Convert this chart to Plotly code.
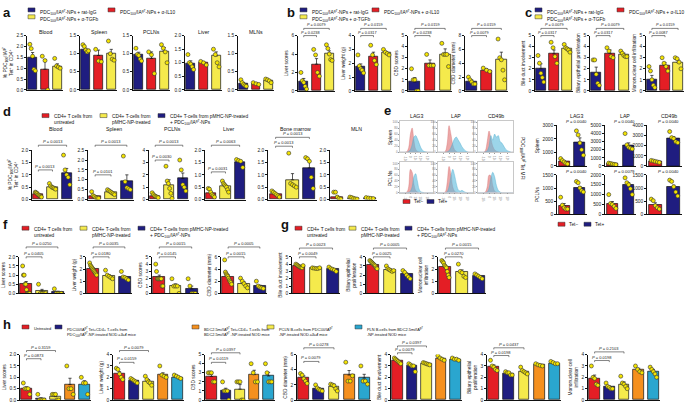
import plotly.graph_objects as go

W, H = 685, 407
NAVY = "#1f1d80"; RED = "#e41e25"; YEL = "#f5ea4c"; ORA = "#f5901e"; CYA = "#2aa6cf"
DOT = "#f4e400"
FONT = "Arial, Liberation Sans, sans-serif"

# ---------------- data ----------------
a_tissues = ["Blood", "Spleen", "PCLNs", "Liver", "MLNs"]
a_means = [[1.47, 0.95, 1.08], [1.1, 0.95, 1.0], [0.97, 0.87, 1.07], [0.97, 1.0, 1.25], [0.17, 0.17, 0.25]]
a_errs = [[0.25, 0.45, 0.12], [0.05, 0.15, 0.12], [0.07, 0.18, 0.1], [0.1, 0.04, 0.15], [0.03, 0.02, 0.03]]
a_pts = [
    [[2.1, 1.9, 1.55, 0.95, 0.88], [1.55, 1.35, 0.0], [1.45, 1.1, 1.05, 1.0]],
    [[1.25, 1.2, 1.1, 1.05, 1.08], [1.12, 0.8, 0.78], [1.35, 1.0, 0.85, 0.82]],
    [[1.15, 0.98, 0.95, 0.85, 0.8], [1.05, 0.97, 0.45], [1.25, 1.15, 1.05, 0.75]],
    [[1.3, 1.0, 0.95, 0.85, 0.75], [1.05, 1.0, 0.92], [1.5, 1.3, 1.0, 0.85]],
    [[0.28, 0.2, 0.15, 0.12, 0.1], [0.2, 0.17, 0.15], [0.3, 0.28, 0.25, 0.2]],
]
a_yticks = [[0, 0.5, 1.0, 1.5, 2.0, 2.5], [0, 0.5, 1.0, 1.5], [0, 0.5, 1.0, 1.5], [0, 0.5, 1.0, 1.5, 2.0], [0, 0.5, 1.0, 1.5]]

b_labels = ["Liver scores", "Liver weight (g)", "CBD scores", "CBD diameter (mm)"]
b_means = [[1.0, 2.9, 4.0], [1.75, 2.5, 2.75], [0.8, 2.5, 3.3], [1.4, 3.0, 4.5]]
b_errs = [[0.35, 0.6, 0.35], [0.2, 0.3, 0.1], [0.4, 0.3, 0.5], [0.2, 0.2, 1.1]]
b_pts = [
    [[2.0, 1.1, 0.9, 0.5, 0.2], [4.5, 3.9, 2.0, 1.6], [5.0, 4.6, 4.0, 3.4, 3.3]],
    [[2.6, 1.8, 1.6, 1.5, 1.3], [3.3, 2.6, 2.2, 1.9], [3.0, 2.8, 2.7, 2.6]],
    [[2.0, 1.0, 1.0, 0.0, 0.0], [3.3, 2.3, 2.3, 2.3], [4.3, 3.3, 3.3, 3.3, 2.2]],
    [[2.0, 1.6, 1.3, 1.0, 1.0], [3.3, 3.0, 2.8], [7.5, 4.8, 4.5, 3.0, 1.6]],
]
b_yticks = [[0, 2, 4, 6], [0, 1, 2, 3, 4], [0, 1, 2, 3, 4, 5], [0, 2, 4, 6, 8]]
b_pvals = [["0.0079", "0.0238"], ["0.0159", "0.0317"], ["0.0159", "0.0238"], ["0.0159", "0.0079"]]

c_labels = ["Bile duct involvement", "Biliary epithelial proliferation", "Mononuclear cell infiltration"]
c_means = [[2.0, 3.35, 3.8], [1.65, 3.4, 3.3], [1.05, 2.3, 2.55]]
c_errs = [[0.45, 0.35, 0.12], [0.5, 0.3, 0.12], [0.35, 0.25, 0.25]]
c_pts = [
    [[3.2, 2.5, 1.6, 1.2, 0.8], [4.4, 3.9, 3.1, 2.5], [4.2, 3.9, 3.8, 3.7, 3.5]],
    [[2.8, 2.8, 1.5, 0.7, 0.5], [3.9, 3.6, 3.1, 3.0], [3.6, 3.4, 3.2, 3.1, 3.1]],
    [[2.2, 1.8, 1.0, 0.5, 0.3], [3.0, 2.5, 2.2, 1.8], [3.0, 2.9, 2.6, 2.0]],
]
c_yticks = [[0, 1, 2, 3, 4, 5]] * 3
c_pvals = [["0.0079", "0.0317"], ["0.0079", "0.0317"], ["0.0159", "0.0087"]]

d_tissues = ["Blood", "Spleen", "PCLNs", "Liver", "Bone marrow", "MLN"]
d_means = [[0.2, 0.5, 1.08], [0.15, 0.37, 0.93], [0.3, 1.2, 1.7], [0.25, 0.55, 1.5], [0.22, 0.8, 1.28], [0.1, 0.05, 0.05]]
d_errs = [[0.03, 0.03, 0.18], [0.04, 0.05, 0.32], [0.06, 0.4, 0.45], [0.05, 0.05, 0.05], [0.04, 0.25, 0.3], [0.04, 0.02, 0.02]]
d_pts = [
    [[0.3, 0.28, 0.25, 0.2, 0.18, 0.15, 0.12, 0.1], [0.65, 0.55, 0.5, 0.48, 0.45, 0.42], [1.8, 1.2, 1.0, 0.9, 0.6]],
    [[0.4, 0.2, 0.15, 0.1, 0.08, 0.07], [0.5, 0.45, 0.4, 0.35, 0.3, 0.25], [2.2, 0.9, 0.6, 0.55, 0.5]],
    [[0.55, 0.4, 0.3, 0.25, 0.2, 0.15], [2.7, 1.5, 1.3, 0.9, 0.5, 0.1], [3.2, 2.4, 1.2, 1.0, 0.7]],
    [[0.45, 0.42, 0.3, 0.2, 0.15, 0.1], [0.75, 0.65, 0.6, 0.55, 0.5, 0.4, 0.3], [1.62, 1.58, 1.55, 1.3]],
    [[0.35, 0.3, 0.25, 0.2, 0.15, 0.1], [1.88, 0.65, 0.6, 0.55, 0.5], [1.7, 1.65, 1.55, 0.9, 0.45]],
    [[0.3, 0.3, 0.1, 0.05, 0.02], [0.1, 0.08, 0.05, 0.03, 0.02], [0.08, 0.06, 0.05, 0.04]],
]
d_yticks = [[0, 0.5, 1.0, 1.5, 2.0], [0, 0.5, 1.0, 1.5, 2.0, 2.5], [0, 1, 2, 3, 4],
            [0, 0.5, 1.0, 1.5, 2.0], [0, 0.5, 1.0, 1.5, 2.0], [0, 0.5, 1.0, 1.5, 2.0]]
d_pvals = [["0.0013", "0.0013"], ["0.0013", "0.0101"], ["0.0013", "0.0030"],
           ["0.0063", "0.0031"], ["0.0013", "0.0013"], None]

e_markers = ["LAG3", "LAP", "CD49b"]
e_rows = ["Spleen", "PCLNs"]
e_means = [[[300, 1750], [250, 2500], [450, 2700]], [[330, 1000], [530, 1500], [370, 1030]]]
e_errs = [[[100, 330], [50, 350], [50, 200]], [[80, 60], [120, 100], [70, 80]]]
e_pts = [
    [[[550, 400, 300, 200, 150], [2600, 2300, 1700, 1200, 800]],
     [[350, 300, 250, 200, 150], [4000, 2600, 2300, 2200, 2100]],
     [[550, 500, 450, 400, 350], [3400, 2800, 2700, 2400, 2300]]],
    [[[650, 350, 250, 200, 200], [1250, 1200, 1000, 900, 850]],
     [[1000, 550, 500, 400, 300], [1850, 1600, 1500, 1300, 1000]],
     [[580, 520, 330, 250, 200], [1300, 1250, 1050, 850, 700]]],
]
e_yticks = [[[0, 1000, 2000, 3000], [0, 1000, 2000, 3000, 4000, 5000], [0, 1000, 2000, 3000, 4000]],
            [[0, 500, 1000, 1500], [0, 500, 1000, 1500, 2000], [0, 500, 1000, 1500]]]
e_pvals = [["0.0040", "0.0040", "0.0040"], ["0.0040", "0.0079", "0.0040"]]

# histogram counts (Tet- , Tet+) per row / marker, 20 bins
hist_tet_neg = [
    [[0, 0, 0, 0, 2, 15, 60, 80, 40, 10, 3, 1, 0, 0, 0, 0, 0, 0, 0, 0],
     [0, 0, 0, 0, 3, 30, 88, 60, 25, 8, 2, 0, 0, 0, 0, 0, 0, 0, 0, 0],
     [0, 0, 0, 0, 5, 35, 70, 45, 20, 8, 3, 1, 0, 0, 0, 0, 0, 0, 0, 0]],
    [[0, 0, 0, 0, 2, 20, 80, 70, 30, 8, 2, 0, 0, 0, 0, 0, 0, 0, 0, 0],
     [0, 0, 0, 0, 3, 35, 90, 65, 20, 5, 1, 0, 0, 0, 0, 0, 0, 0, 0, 0],
     [0, 0, 0, 0, 2, 20, 60, 58, 25, 6, 1, 0, 0, 0, 0, 0, 0, 0, 0, 0]],
]
hist_tet_pos = [
    [[0, 0, 0, 0, 0, 2, 8, 25, 50, 55, 45, 30, 15, 6, 2, 1, 0, 0, 0, 0],
     [0, 0, 0, 0, 0, 1, 5, 15, 30, 45, 50, 40, 30, 18, 10, 4, 1, 0, 0, 0],
     [0, 0, 0, 0, 1, 5, 20, 55, 40, 60, 50, 55, 35, 30, 20, 10, 5, 2, 0, 0]],
    [[0, 0, 0, 0, 0, 1, 5, 20, 55, 65, 40, 12, 3, 1, 0, 0, 0, 0, 0, 0],
     [0, 0, 0, 0, 0, 3, 20, 55, 80, 60, 30, 10, 5, 8, 4, 1, 0, 0, 0, 0],
     [0, 0, 0, 0, 0, 2, 15, 50, 70, 55, 25, 8, 2, 0, 0, 0, 0, 0, 0, 0]],
]
hist_xtick_labels = ["-10³", "0", "10³", "10⁴", "10⁵"]

f_labels = ["Liver scores", "Liver weight (g)", "CBD scores", "CBD diameter (mm)"]
f_means = [[0.5, 0.12, 0.07], [2.0, 1.45, 1.33], [2.2, 1.05, 0.6], [2.75, 1.65, 1.2]]
f_errs = [[0.15, 0.1, 0.05], [0.1, 0.1, 0.07], [0.3, 0.25, 0.4], [0.3, 0.25, 0.15]]
f_pts = [
    [[1.5, 1.0, 1.0, 0.5, 0.5, 0.2, 0, 0, 0, 0], [0.5, 0, 0, 0, 0], [0.25, 0, 0, 0, 0]],
    [[2.5, 2.3, 2.2, 2.1, 2.0, 1.9, 1.8, 1.7, 1.6, 1.5], [1.9, 1.5, 1.4, 1.3, 1.2], [1.8, 1.35, 1.3, 1.2, 1.1]],
    [[4, 3, 2, 2, 2, 2, 2, 2, 1, 1], [2, 1, 1, 1, 0], [2, 1, 0, 0, 0]],
    [[5.5, 3.5, 3.2, 3.0, 2.8, 2.5, 2.2, 2.0, 1.8, 1.5], [2.5, 2.0, 1.6, 1.2, 0.9], [2.0, 1.2, 1.0, 0.9, 0.8]],
]
f_yticks = [[0, 0.5, 1.0, 1.5, 2.0], [0, 1, 2, 3], [0, 1, 2, 3, 4, 5], [0, 2, 4, 6]]
f_pvals = [["0.0250", "0.0405"], ["0.0035", "0.0180"], ["0.0015", "0.0145"], ["0.0005", "0.0015"]]

g_labels = ["Bile duct involvement", "Biliary epithelial<br>proliferation", "Mononuclear cell<br>infiltration"]
g_means = [[3.75, 3.45, 3.3], [3.15, 2.6, 2.1], [2.15, 1.75, 1.4]]
g_errs = [[0.08, 0.05, 0.1], [0.1, 0.1, 0.15], [0.15, 0.18, 0.07]]
g_pts = [
    [[4.0, 3.9, 3.8, 3.7, 3.6, 3.55, 3.5, 3.8], [3.5, 3.45, 3.4, 3.4, 3.5], [3.6, 3.4, 3.3, 3.2, 3.0]],
    [[3.6, 3.5, 3.4, 3.3, 3.2, 3.1, 3.0, 2.8, 2.7], [3.0, 2.7, 2.6, 2.5, 2.4, 2.5], [2.5, 2.3, 2.0, 1.8, 1.6]],
    [[2.7, 2.6, 2.5, 2.3, 2.2, 2.1, 1.8, 1.5, 1.3], [2.4, 1.8, 1.7, 1.4, 1.3], [1.6, 1.5, 1.4, 1.3, 1.2]],
]
g_yticks = [[0, 1, 2, 3, 4, 5], [0, 1, 2, 3, 4], [0, 1, 2, 3]]
g_pvals = [["0.0023", "0.0049"], ["0.0005", "0.0025"], ["0.0015", "0.0270"]]

h_labels = ["Liver scores", "Liver weight (g)", "CBD scores", "CBD diameter (mm)",
            "Bile duct involvement", "Biliary epithelial<br>proliferation", "Mononuclear cell<br>infiltration"]
h_means = [[0.5, 0.05, 0.15, 0.68, 0.7], [2.3, 1.7, 1.65, 2.2, 2.0], [2.6, 1.05, 1.2, 2.8, 2.65],
           [2.9, 1.5, 1.75, 3.3, 2.9], [3.45, 3.05, 3.2, 3.65, 3.6], [2.95, 2.35, 2.5, 3.1, 3.25],
           [1.9, 1.15, 1.4, 2.65, 2.5]]
h_errs = [[0.08, 0.05, 0.07, 0.28, 0.15], [0.2, 0.1, 0.15, 0.2, 0.08], [0.25, 0.25, 0.5, 0.48, 0.4],
          [0.3, 0.15, 0.35, 0.6, 0.5], [0.08, 0.08, 0.04, 0.1, 0.05], [0.15, 0.1, 0.1, 0.06, 0.05],
          [0.3, 0.1, 0.2, 0.15, 0.2]]
h_pts = [
    [[0.75, 0.5, 0.5, 0.5, 0.25], [0.25, 0, 0, 0, 0], [0.25, 0.25, 0.25, 0, 0], [1.5, 0.5, 0.5, 0.25], [1.0, 0.75, 0.75, 0.25]],
    [[2.8, 2.7, 2.3, 2.0, 1.8], [1.9, 1.8, 1.7, 1.6, 1.5], [2.1, 1.8, 1.6, 1.5, 1.3], [3.0, 2.2, 2.1, 2.0], [2.2, 2.1, 2.0, 1.9]],
    [[3, 3, 3, 2, 2], [2, 1, 1, 1, 0], [2, 2, 2, 0, 0], [4, 3, 2, 2], [4, 3, 2, 2, 2]],
    [[3.5, 3.3, 2.8, 2.5, 2.2], [2.0, 1.6, 1.4, 1.3, 1.2], [2.1, 2.0, 1.9, 1.5, 1.2], [5.0, 2.5, 2.5, 3.2], [4.5, 2.5, 2.5, 2.1]],
    [[3.7, 3.6, 3.5, 3.4, 3.3, 3.2], [3.2, 3.1, 3.0, 3.0, 2.5], [3.3, 3.25, 3.2, 3.15, 3.1], [3.9, 3.7, 3.6, 3.5], [3.7, 3.6, 3.6, 3.5]],
    [[3.5, 3.0, 2.9, 2.7, 2.6], [2.5, 2.4, 2.4, 2.2, 2.2], [2.9, 2.6, 2.5, 2.4, 2.3], [3.2, 3.1, 3.05, 3.0], [3.4, 3.3, 3.2, 3.2]],
    [[3.0, 2.0, 1.9, 1.4, 1.3], [1.5, 1.2, 1.1, 1.0, 1.0], [2.1, 1.5, 1.4, 1.2, 1.0], [3.0, 2.7, 2.5, 2.4], [2.9, 2.7, 2.5, 2.3, 2.0]],
]
h_yticks = [[0, 0.5, 1.0, 1.5, 2.0], [0, 1, 2, 3, 4], [0, 1, 2, 3, 4, 5], [0, 2, 4, 6],
            [0, 1, 2, 3, 4], [0, 1, 2, 3, 4], [0, 1, 2, 3, 4]]
h_pvals = [["0.3159", "0.0873"], ["0.0079", "0.0159"], ["0.0397", "0.0119"], ["0.0278", "0.0079"],
           ["0.0397", "0.0079"], ["0.0437", "0.0198"], ["0.2103", "0.0198"]]

# ---------------- helpers ----------------
fig = go.Figure()
layout_axes = {}
shapes = []
annots = []
counter = [0]
TICKF = dict(family=FONT, size=4.8, color="#222")


def X(px):
    return px / W


def Y(py):
    return 1 - py / H


def new_axes():
    counter[0] += 1
    n = counter[0]
    s = "" if n == 1 else str(n)
    return "x" + s, "y" + s, "xaxis" + s, "yaxis" + s


def fmt_ticks(vals):
    if any(abs(v - round(v)) > 1e-9 for v in vals):
        return ["%.1f" % v for v in vals]
    return ["%d" % v for v in vals]


def bar_panel(x0, x1, yt, yb, means, errs, pts, colors, yticks, ylabel=None,
              pvals=None, levels=None, xpad=0.45, width=0.72, psize=4.0):
    xa, ya, xk, yk = new_axes()
    k = len(means)
    fig.add_trace(go.Bar(
        x=list(range(k)), y=means, width=width,
        marker=dict(color=colors, line=dict(color="#111", width=0.7)),
        error_y=dict(type="data", array=errs, arrayminus=[0] * k, symmetric=False,
                     color="#111", thickness=0.7, width=1.6),
        xaxis=xa, yaxis=ya, showlegend=False, hoverinfo="skip"))
    px, py = [], []
    for i, grp in enumerate(pts):
        n = len(grp)
        for j, v in enumerate(grp):
            off = 0 if n == 1 else -0.22 + 0.44 * j / (n - 1)
            px.append(i + off)
            py.append(v)
    fig.add_trace(go.Scatter(
        x=px, y=py, mode="markers", xaxis=xa, yaxis=ya, showlegend=False, hoverinfo="skip",
        marker=dict(size=4, color=DOT, line=dict(color="#333", width=0.6))))
    ymax = yticks[-1]
    layout_axes[xk] = dict(domain=[X(x0), X(x1)], range=[-xpad, k - 1 + xpad], anchor=ya,
                           showline=True, linecolor="#111", linewidth=0.7, showticklabels=False,
                           ticks="", showgrid=False, zeroline=False, fixedrange=True)
    ya_dict = dict(domain=[Y(yb), Y(yt)], range=[0, ymax * 1.0001], anchor=xa,
                   showline=True, linecolor="#111", linewidth=0.7, ticks="outside",
                   ticklen=2, tickwidth=0.6, tickcolor="#111",
                   tickvals=yticks, ticktext=fmt_ticks(yticks), tickfont=TICKF,
                   showgrid=False, zeroline=False, fixedrange=True)
    if ylabel:
        ya_dict["title"] = dict(text=ylabel, font=dict(family=FONT, size=4.8, color="#222"),
                                standoff=2)
    layout_axes[yk] = ya_dict
    if pvals:
        hpx = yb - yt
        tick = 1.6 / hpx
        for (i1, lev, txt) in [(2, levels[0], pvals[0]), (1, levels[1], pvals[1])]:
            for (xa0, xa1, y0, y1) in [(0, i1, lev, lev), (0, 0, lev, lev - tick), (i1, i1, lev, lev - tick)]:
                shapes.append(dict(type="line", xref=xa, yref=ya + " domain", x0=xa0, x1=xa1,
                                   y0=y0, y1=y1, line=dict(color="#333", width=0.6)))
            annots.append(dict(x=i1 / 2, y=lev, xref=xa, yref=ya + " domain", yanchor="bottom",
                               xanchor="center", showarrow=False, yshift=-1,
                               text="<i>P</i> = " + txt,
                               font=dict(family=FONT, size=psize, color="#222")))
    return xa, ya


def text(px_, py_, t, size=5, xanchor="left", yanchor="middle", angle=0, bold=False, align="left"):
    annots.append(dict(x=X(px_), y=Y(py_), xref="paper", yref="paper", text=("<b>%s</b>" % t) if bold else t,
                       showarrow=False, xanchor=xanchor, yanchor=yanchor, textangle=angle, align=align,
                       font=dict(family=FONT, size=size, color="#111")))


def legend_item(px_, py_, color, label, size=4.8):
    shapes.append(dict(type="rect", xref="paper", yref="paper", x0=X(px_), x1=X(px_ + 7),
                       y0=Y(py_ + 2), y1=Y(py_ - 2), fillcolor=color, line=dict(color="#333", width=0.5)))
    annots.append(dict(x=X(px_ + 9.5), y=Y(py_ - 3.2), xref="paper", yref="paper", text=label,
                       showarrow=False, xanchor="left", yanchor="top", align="left",
                       font=dict(family=FONT, size=size, color="#111")))


PDC = "PDC<sub>100</sub>/IA<sup>g7</sup>"
ABC = [NAVY, RED, YEL]
DFG = [RED, YEL, NAVY]

# ---------------- panel a ----------------
text(1, 1, "a", size=13, yanchor="top", bold=True)
legend_item(28, 8, NAVY, PDC + "-NPs + rat-IgG")
legend_item(108, 8, RED, PDC + "-NPs + α-IL10")
legend_item(28, 15, YEL, PDC + "-NPs + α-TGFb")
a_x = [(27, 63), (80, 117), (133, 170), (185, 222), (238, 274)]
for i, (x0, x1) in enumerate(a_x):
    lab = "% " + PDC + "<br>Tet<sup>+</sup> in CD4<sup>+</sup>" if i == 0 else None
    bar_panel(x0, x1, 34, 89, a_means[i], a_errs[i], a_pts[i], ABC, a_yticks[i], ylabel=lab)
    text((x0 + x1) / 2, 30, a_tissues[i], size=5.2, xanchor="center")

# ---------------- panel b ----------------
text(285, 1, "b", size=13, yanchor="top", bold=True)
legend_item(300, 8, NAVY, PDC + "-NPs + rat-IgG")
legend_item(372, 8, RED, PDC + "-NPs + α-IL10")
legend_item(300, 15, YEL, PDC + "-NPs + α-TGFb")
b_x = [(298, 335), (355, 392), (408, 452), (465, 508)]
for i, (x0, x1) in enumerate(b_x):
    bar_panel(x0, x1, 34, 90, b_means[i], b_errs[i], b_pts[i], ABC, b_yticks[i], ylabel=b_labels[i],
              pvals=b_pvals[i], levels=(1.13, 1.0), psize=3.8)

# ---------------- panel c ----------------
text(523, 1, "c", size=13, yanchor="top", bold=True)
legend_item(535, 8, NAVY, PDC + "-NPs + rat-IgG")
legend_item(617, 8, RED, PDC + "-NPs + α-IL10")
legend_item(535, 15, YEL, PDC + "-NPs + α-TGFb")
c_x = [(535, 573), (590, 630), (646, 684)]
for i, (x0, x1) in enumerate(c_x):
    bar_panel(x0, x1, 34, 90, c_means[i], c_errs[i], c_pts[i], ABC, c_yticks[i], ylabel=c_labels[i],
              pvals=c_pvals[i], levels=(1.13, 1.0), psize=3.8)

# ---------------- panel d ----------------
text(1, 101, "d", size=13, yanchor="top", bold=True)
legend_item(42, 115, RED, "CD4+ T cells from<br>untreated")
legend_item(100, 115, YEL, "CD4+ T-cells from<br>pMHC-NP-treated")
legend_item(158, 115, NAVY, "CD4+ T-cells from pMHC-NP-treated<br>+ " + PDC + "-NPs")
d_x = [(32, 73), (88, 134), (149, 189), (205, 246), (268, 317), (330, 377)]
d_levels = [(1.1, 0.6), (1.1, 0.5), (1.1, 0.8), (1.1, 0.56), (1.26, 1.08), None]
for i, (x0, x1) in enumerate(d_x):
    lab = "% " + PDC + "<br>Tet<sup>+</sup> in CD4<sup>+</sup>" if i == 0 else None
    bar_panel(x0, x1, 150, 200, d_means[i], d_errs[i], d_pts[i], DFG, d_yticks[i], ylabel=lab,
              pvals=d_pvals[i], levels=d_levels[i])
    text((x0 + x1) / 2 + 3, 129, d_tissues[i], size=5.2, xanchor="center")

# ---------------- panel e: histograms ----------------
text(382, 100, "e", size=13, yanchor="top", bold=True)
hx = [(400, 433), (438, 473), (478, 513)]
hy = [(120, 152), (162, 193)]
bins = list(range(20))
for r in range(2):
    for c in range(3):
        xa, ya, xk, yk = new_axes()
        (x0, x1), (yt, yb) = hx[c], hy[r]
        fig.add_trace(go.Scatter(x=bins, y=hist_tet_neg[r][c], mode="lines", fill="tozeroy",
                                 line=dict(color="rgba(214,110,110,0.9)", width=0.4, shape="spline"),
                                 fillcolor="rgba(226,120,120,0.65)", xaxis=xa, yaxis=ya,
                                 showlegend=False, hoverinfo="skip"))
        fig.add_trace(go.Scatter(x=bins, y=hist_tet_pos[r][c], mode="lines", fill="tozeroy",
                                 line=dict(color="rgba(70,170,205,0.9)", width=0.4, shape="spline"),
                                 fillcolor="rgba(90,185,220,0.6)", xaxis=xa, yaxis=ya,
                                 showlegend=False, hoverinfo="skip"))
        small = dict(family=FONT, size=3, color="#777")
        layout_axes[xk] = dict(domain=[X(x0), X(x1)], range=[0, 19], anchor=ya, showline=True, mirror=True,
                               linecolor="#c8c8c8", linewidth=0.6, ticks="outside", ticklen=1,
                               tickcolor="#999", tickvals=[3, 6, 9, 12, 16], ticktext=hist_xtick_labels,
                               tickfont=small, showgrid=False, zeroline=False, fixedrange=True)
        layout_axes[yk] = dict(domain=[Y(yb), Y(yt)], range=[0, 105], anchor=xa, showline=True, mirror=True,
                               linecolor="#c8c8c8", linewidth=0.6, ticks="outside", ticklen=1,
                               tickcolor="#999", tickvals=[0, 20, 40, 60, 80, 100], tickfont=small,
                               showgrid=False, zeroline=False, fixedrange=True)
        if r == 0:
            text((x0 + x1) / 2, 115, e_markers[c], size=5.2, xanchor="center")
    text(390, (hy[r][0] + hy[r][1]) / 2 + 1, e_rows[r], size=5, xanchor="center", angle=-90)
shapes.append(dict(type="rect", xref="paper", yref="paper", x0=X(403), x1=X(410), y0=Y(204), y1=Y(200),
                   fillcolor=RED, line=dict(color="#333", width=0.5)))
text(412, 202, "Tet−", size=4.8)
shapes.append(dict(type="rect", xref="paper", yref="paper", x0=X(427), x1=X(434), y0=Y(204), y1=Y(200),
                   fillcolor=NAVY, line=dict(color="#333", width=0.5)))
text(436, 202, "Tet+", size=4.8)
text(523, 158, PDC + " Tet MFI", size=4.8, xanchor="center", angle=90)

# ---------------- panel e: bars ----------------
ex = [(557, 587), (605, 636), (647, 682)]
ey = [(125, 166), (175, 215)]
for r in range(2):
    for c in range(3):
        (x0, x1), (yt, yb) = ex[c], ey[r]
        lab = e_rows[r] if c == 0 else None
        bar_panel(x0, x1, yt, yb, e_means[r][c], e_errs[r][c], e_pts[r][c], [RED, NAVY], e_yticks[r][c],
                  ylabel=lab, xpad=0.45, width=0.7)
        text((x0 + x1) / 2 + 4, yt - 4 if r == 0 else yt - 3, "<i>P</i> = " + e_pvals[r][c], size=4.2,
             xanchor="center")
        if r == 0:
            text((x0 + x1) / 2 + 4, 115, e_markers[c], size=5.2, xanchor="center")
shapes.append(dict(type="rect", xref="paper", yref="paper", x0=X(558), x1=X(565), y0=Y(227), y1=Y(223),
                   fillcolor=RED, line=dict(color="#333", width=0.5)))
text(567, 225, "Tet−", size=4.8)
shapes.append(dict(type="rect", xref="paper", yref="paper", x0=X(584), x1=X(591), y0=Y(227), y1=Y(223),
                   fillcolor=NAVY, line=dict(color="#333", width=0.5)))
text(593, 225, "Tet+", size=4.8)

# ---------------- panel f ----------------
text(1, 216, "f", size=13, yanchor="top", bold=True)
legend_item(22, 229, RED, "CD4+ T cells from<br>untreated")
legend_item(80, 229, YEL, "CD4+ T-cells from<br>pMHC-NP-treated")
legend_item(138, 229, NAVY, "CD4+ T-cells from pMHC-NP-treated<br>+ " + PDC + "-NPs")
f_x = [(19, 65), (86, 132), (152, 199), (221, 267)]
for i, (x0, x1) in enumerate(f_x):
    bar_panel(x0, x1, 258, 295, f_means[i], f_errs[i], f_pts[i], DFG, f_yticks[i], ylabel=f_labels[i],
              pvals=f_pvals[i], levels=(1.27, 1.0))

# ---------------- panel g ----------------
text(279, 216, "g", size=13, yanchor="top", bold=True)
legend_item(295, 229, RED, "CD4+ T cells from<br>untreated")
legend_item(349, 229, YEL, "CD4+ T-cells from<br>pMHC-NP-treated")
legend_item(405, 229, NAVY, "CD4+ T-cells from pMHC-NP-treated<br>+ " + PDC + "-NPs")
g_x = [(292, 340), (366, 414), (438, 486)]
for i, (x0, x1) in enumerate(g_x):
    bar_panel(x0, x1, 258, 295, g_means[i], g_errs[i], g_pts[i], DFG, g_yticks[i], ylabel=g_labels[i],
              pvals=g_pvals[i], levels=(1.24, 1.0))

# ---------------- panel h ----------------
text(1, 317, "h", size=13, yanchor="top", bold=True)
HL = 3.9
legend_item(22, 329, RED, "Untreated", size=HL)
legend_item(55, 329, NAVY, PDC + " Tet+CD4+ T-cells from<br>" + PDC + "-NP-treated NOD.<i>c3c4</i> mice", size=HL)
legend_item(192, 329, ORA, "BDC2.5mi/IA<sup>g7</sup> Tet+CD4+ T-cells from<br>BDC2.5mi/IA<sup>g7</sup> -NP-treated NOD mice", size=HL)
legend_item(267, 329, YEL, "PCLN B-cells from " + PDC + "<br>-NP-treated NOD.<i>c3c4</i> mice", size=HL)
legend_item(355, 329, CYA, "PLN B-cells from BDC2.5mi/IA<sup>g7</sup><br>-NP-treated NOD mice", size=HL)
h_x = [(20, 91), (113, 184), (205, 275), (297, 371), (391, 462), (487, 561), (588, 660)]
h_levels = [(1.09, 0.91), (1.09, 0.83), (1.04, 0.83), (1.15, 0.85), (1.19, 1.04), (1.15, 0.98), (1.06, 0.87)]
for i, (x0, x1) in enumerate(h_x):
    bar_panel(x0, x1, 357, 403, h_means[i], h_errs[i], h_pts[i], [RED, NAVY, YEL, ORA, CYA], h_yticks[i],
              ylabel=h_labels[i], pvals=h_pvals[i], levels=h_levels[i])

fig.update_layout(
    width=W, height=H, margin=dict(l=0, r=0, t=0, b=0),
    paper_bgcolor="white", plot_bgcolor="rgba(0,0,0,0)",
    font=dict(family=FONT, size=5, color="#111"),
    shapes=shapes, annotations=annots, showlegend=False, bargap=0,
    **layout_axes)
fig.write_html("out.html", config={"displayModeBar": False},
               post_script="document.body.style.margin='0';document.body.style.overflow='hidden';")
